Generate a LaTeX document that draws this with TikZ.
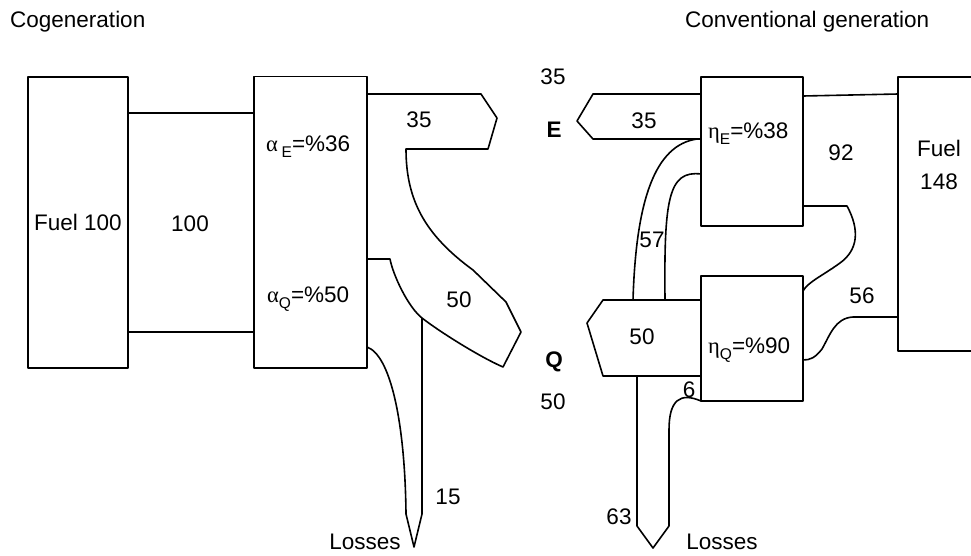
\documentclass[tikz,border=0pt]{standalone}
\usepackage{fontspec}
\setmainfont{Liberation Sans}
\newfontfamily\grk{Liberation Serif}
\begin{document}
\begin{tikzpicture}[x=1pt,y=-1pt,line join=round,
  lbl/.style={font=\fontsize{22.5}{24}\selectfont, inner sep=0pt},
  box/.style={draw, line width=1.6pt, inner sep=0pt, font=\fontsize{22.5}{24}\selectfont},
  flow/.style={draw, line width=1.6pt}]
\useasboundingbox (0,0) rectangle (971,555);
\newcommand{\sbs}[1]{\raisebox{-6.5pt}{\fontsize{15.5}{15.5}\selectfont #1}}

% titles
\node[lbl, anchor=base west] (tcog) at (10,27) {Cogeneration};
\node[lbl, anchor=base west] (tconv) at (685,27) {Conventional generation};

% ---------- Cogeneration ----------
\node[box, minimum width=100pt, minimum height=291pt] (fuelL) at (78,222.5) {Fuel 100};
\node[box, minimum width=113pt, minimum height=291.5pt] (alpha) at (310.5,222.25) {};
\node[lbl, anchor=base west] (alphaE) at (266,151) {{\grk α}\,\sbs{E}=\%36};
\node[lbl, anchor=base west] (alphaQ) at (267,302) {{\grk α}\sbs{Q}=\%50};

\draw[flow] (128,113) -- (254,113);
\draw[flow] (128,332) -- (254,332);
\node[lbl] (l100) at (190,224) {100};

\draw[flow] (367,94) -- (481,94) -- (497,118) -- (488,149) -- (406,149)
  .. controls (406,200) and (425,235) .. (473,270) -- (506,302) -- (521,332) -- (503,367)
  .. controls (480,357) and (440,332) .. (422,318)
  .. controls (408,307) and (393,275) .. (390,259) -- (367,259);
\draw[flow] (367,347) .. controls (390,355) and (405,420) .. (406,514)
  -- (414,547) -- (422,514) -- (422,318);

\node[lbl] (c35) at (419,120) {35};
\node[lbl] (c50) at (459,300) {50};
\node[lbl] (c15) at (448,497) {15};
\node[lbl] (closs) at (365,542) {Losses};

% ---------- Conventional ----------
\node[box, minimum width=102pt, minimum height=149pt] (etaE) at (752,151.5) {};
\node[box, minimum width=102pt, minimum height=125pt] (etaQ) at (752,338.5) {};
\node[lbl, anchor=base west] (etaEl) at (708,138) {{\grk η}\sbs{E}=\%38};
\node[lbl, anchor=base west] (etaQl) at (708,353) {{\grk η}\sbs{Q}=\%90};

\draw[flow] (971,77) -- (898,77) -- (898,351) -- (971,351);
\node[lbl] (fuelRa) at (939,148) {Fuel};
\node[lbl] (fuelRb) at (939,182) {148};

\draw[flow] (701,94) -- (593,94) -- (577,121) -- (593,139) -- (701,139);
\draw[flow] (697,139) .. controls (655,145) and (636,200) .. (633,300);
\draw[flow] (701,174) .. controls (668,170) and (664,200) .. (665,300);
\draw[flow] (701,300) -- (603,300) -- (587,323) -- (603,376) -- (701,376);
\draw[flow] (637,376) -- (637,526) -- (653,548) -- (669,526) -- (669,430)
  .. controls (669,400) and (680,392) .. (701,401);
\draw[flow] (803,96) -- (898,94);
\draw[flow] (803,206) -- (847,206) .. controls (860,230) and (858,250) .. (840,263)
  .. controls (822,276) and (808,282) .. (803,291);
\draw[flow] (898,317) -- (853,317) .. controls (835,318) and (830,335) .. (822,349)
  .. controls (815,358) and (810,360) .. (803,360);

\node[lbl] (r35a) at (553,77) {35};
\node[lbl] (rE) at (554,130) {\textbf{E}};
\node[lbl] (r35b) at (644,121) {35};
\node[lbl] (r92) at (841,153) {92};
\node[lbl] (r57) at (652,240) {57};
\node[lbl] (r50a) at (642,337) {50};
\node[lbl] (rQ) at (554,362) {\textbf{Q}};
\node[lbl] (r50b) at (553,402) {50};
\node[lbl] (r6) at (689,390) {6};
\node[lbl] (r56) at (862,296) {56};
\node[lbl] (r63) at (619,517) {63};
\node[lbl] (rloss) at (722,542) {Losses};
\end{tikzpicture}
\end{document}
